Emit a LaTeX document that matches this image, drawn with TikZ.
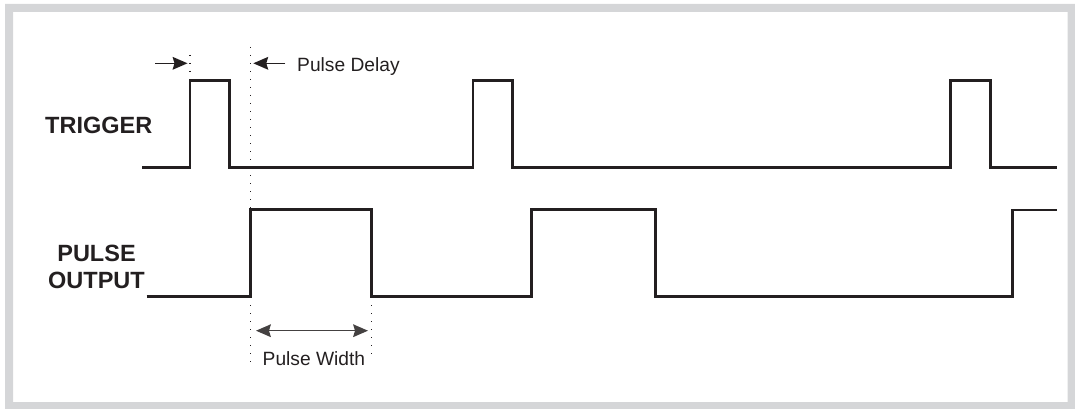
\documentclass[tikz,border=0pt]{standalone}
\usepackage{fontspec}
\setmainfont{Liberation Sans}
\usetikzlibrary{arrows.meta}
\definecolor{framegray}{HTML}{D5D6D8}
\definecolor{ink}{HTML}{231F20}
\begin{document}
\begin{tikzpicture}[x=1pt,y=-1pt,
  trace/.style={draw=ink,line width=2.6pt,line join=miter},
  guide/.style={draw=ink,line width=1.3pt,dash pattern=on 1.3pt off 6.7pt},
  tip/.tip={Stealth[length=15pt,width=13pt,inset=2pt,line width=0pt]},
  dimarrow/.style={draw=ink,fill=ink,line width=1.4pt,-tip},
  dimboth/.style={draw=ink!85,fill=ink,line width=1.4pt,tip-tip},
  biglabel/.style={font=\fontsize{23.5}{27.6}\selectfont\bfseries,text=ink,inner sep=0pt},
  smalllabel/.style={font=\fontsize{19.2}{22}\selectfont,text=ink,inner sep=0pt}]
\useasboundingbox (0,0) rectangle (1075,409);
% frame
\fill[framegray,even odd rule] (5,4) rectangle (1075,409) (13,12) rectangle (1067.5,402);
% labels
\node[biglabel,anchor=base west] (trig) at (45,133.5) {TRIGGER};
\node[biglabel,align=center,anchor=center] (pout) at (96.5,267) {PULSE\\OUTPUT};
\node[smalllabel,anchor=base west] (pdelay) at (297,71.5) {Pulse Delay};
\node[smalllabel,anchor=base west] (pwidth) at (262.5,365.5) {Pulse Width};
% trigger waveform
\draw[trace] (142,167.5) -| (190,80.5) -| (229.7,167.5) -| (473,80.5) -| (512.7,167.5)
  -| (950.7,80.5) -| (990.7,167.5) -- (1056.7,167.5);
% pulse output waveform
\draw[trace] (146.7,296.5) -| (250.7,209.7) -| (371.5,296.5) -| (531.5,209.7) -| (655.5,296.5)
  -| (1012.7,210) -- (1056.7,210);
% guides
\coordinate (g1a) at (190,55); \coordinate (g1b) at (190,72);
\coordinate (g2a) at (250.7,47); \coordinate (g2b) at (250.7,209);
\coordinate (g3a) at (250.7,305); \coordinate (g3b) at (250.7,364);
\coordinate (g4a) at (371.5,305); \coordinate (g4b) at (371.5,356);
\draw[guide] (g1a) -- (g1b);
\draw[guide] (g2a) -- (g2b);
\draw[guide] (g3a) -- (g3b);
\draw[guide] (g4a) -- (g4b);
% dimension arrows
\coordinate (a1t) at (155,63.3); \coordinate (a1h) at (187.5,63.3);
\coordinate (a2t) at (285,63.3); \coordinate (a2h) at (253.3,63.3);
\coordinate (w1) at (256,330.7); \coordinate (w2) at (368,330.7);
\draw[dimarrow] (a1t) -- (a1h);
\draw[dimarrow] (a2t) -- (a2h);
\draw[dimboth] (w1) -- (w2);
\end{tikzpicture}
\end{document}
